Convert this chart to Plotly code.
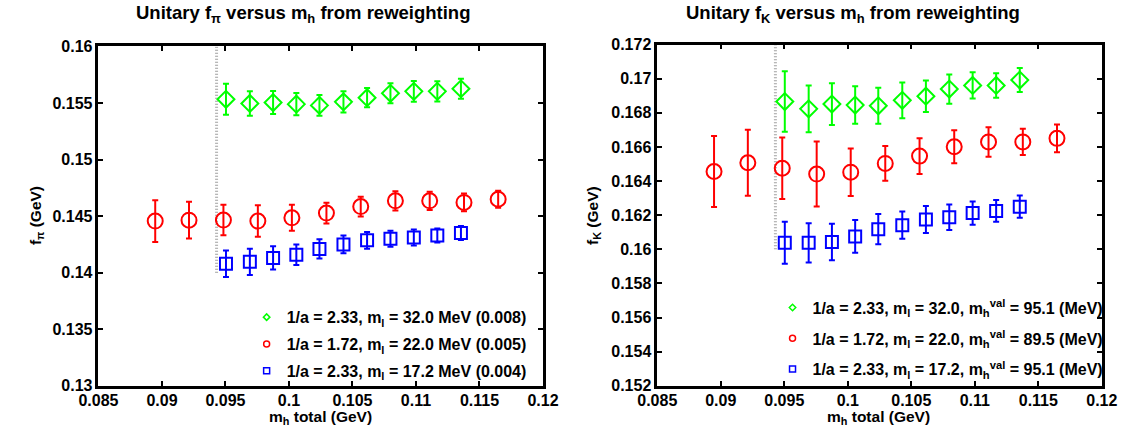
import plotly.graph_objects as go

# Heavy-quark mass (GeV) on each ensemble
mh_233 = [0.09504, 0.09692, 0.09875, 0.10058, 0.10240, 0.10429, 0.10615, 0.10799, 0.10983, 0.11168, 0.11354]
mh_172 = [0.08947, 0.09213, 0.09484, 0.09755, 0.10023, 0.10295, 0.10565, 0.10838, 0.11108, 0.11378, 0.11647]

# f_pi (GeV) with errors
fpi_008 = [0.15533, 0.15496, 0.15504, 0.15490, 0.15479, 0.15510, 0.15547, 0.15586, 0.15603, 0.15603, 0.15626]
fpi_008_err = [0.00137, 0.00109, 0.00102, 0.00098, 0.00092, 0.00094, 0.00085, 0.00088, 0.00092, 0.00089, 0.00088]
fpi_005 = [0.14456, 0.14464, 0.14465, 0.14456, 0.14485, 0.14527, 0.14584, 0.14635, 0.14635, 0.14621, 0.14649]
fpi_005_err = [0.00184, 0.00163, 0.00135, 0.00139, 0.00115, 0.00092, 0.00088, 0.00085, 0.00080, 0.00078, 0.00075]
fpi_004 = [0.14079, 0.14096, 0.14130, 0.14159, 0.14210, 0.14250, 0.14286, 0.14300, 0.14311, 0.14328, 0.14351]
fpi_004_err = [0.00117, 0.00116, 0.00103, 0.00091, 0.00085, 0.00079, 0.00074, 0.00070, 0.00070, 0.00062, 0.00062]

# f_K (GeV) with errors
fK_008 = [0.16866, 0.16823, 0.16851, 0.16845, 0.16841, 0.16873, 0.16897, 0.16939, 0.16960, 0.16960, 0.16992]
fK_008_err = [0.00177, 0.00137, 0.00122, 0.00110, 0.00105, 0.00105, 0.00092, 0.00086, 0.00077, 0.00072, 0.00070]
fK_005 = [0.16456, 0.16507, 0.16475, 0.16441, 0.16452, 0.16503, 0.16546, 0.16601, 0.16629, 0.16629, 0.16650]
fK_005_err = [0.00208, 0.00193, 0.00180, 0.00190, 0.00139, 0.00102, 0.00105, 0.00097, 0.00086, 0.00077, 0.00081]
fK_004 = [0.16038, 0.16038, 0.16043, 0.16075, 0.16118, 0.16141, 0.16175, 0.16188, 0.16212, 0.16225, 0.16250]
fK_004_err = [0.00123, 0.00115, 0.00107, 0.00096, 0.00089, 0.00080, 0.00079, 0.00075, 0.00068, 0.00064, 0.00065]

# Reweighting cut
cut_x = [0.0943, 0.0943]
cut_y_pi = [0.14, 0.16]
cut_y_K = [0.16, 0.172]

# Axis ticks
x_ticks = [0.085, 0.09, 0.095, 0.1, 0.105, 0.11, 0.115, 0.12]
y_ticks_pi = [0.13, 0.135, 0.14, 0.145, 0.15, 0.155, 0.16]
y_ticks_K = [0.152, 0.154, 0.156, 0.158, 0.16, 0.162, 0.164, 0.166, 0.168, 0.17, 0.172]

labels_pi = ["1/a = 2.33, m<sub>l</sub> = 32.0 MeV (0.008)",
             "1/a = 1.72, m<sub>l</sub> = 22.0 MeV (0.005)",
             "1/a = 2.33, m<sub>l</sub> = 17.2 MeV (0.004)"]
labels_K = ["1/a = 2.33, m<sub>l</sub> = 32.0, m<sub>h</sub><sup>val</sup> = 95.1 (MeV)",
            "1/a = 1.72, m<sub>l</sub> = 22.0, m<sub>h</sub><sup>val</sup> = 89.5 (MeV)",
            "1/a = 2.33, m<sub>l</sub> = 17.2, m<sub>h</sub><sup>val</sup> = 95.1 (MeV)"]

GREEN, RED, BLUE = "#00ff00", "#ff0000", "#0000ff"
FONT = "Liberation Sans, Arial, sans-serif"

styles = [("diamond-open", 13, GREEN), ("circle-open", 15, RED), ("square-open", 12, BLUE)]

fig = go.Figure()

panels = [
    ("x", "y", cut_y_pi, [(mh_233, fpi_008, fpi_008_err), (mh_172, fpi_005, fpi_005_err),
                          (mh_233, fpi_004, fpi_004_err)], labels_pi, "legend"),
    ("x2", "y2", cut_y_K, [(mh_233, fK_008, fK_008_err), (mh_172, fK_005, fK_005_err),
                           (mh_233, fK_004, fK_004_err)], labels_K, "legend2"),
]

for xa, ya, cut_y, series, labels, leg in panels:
    fig.add_trace(go.Scatter(x=cut_x, y=cut_y, xaxis=xa, yaxis=ya, mode="lines",
                             line=dict(color="#a0a0a0", width=3, dash="1px,2px"),
                             showlegend=False, hoverinfo="skip"))
    for (xs, ys, es), (sym, size, col), lab in zip(series, styles, labels):
        fig.add_trace(go.Scatter(
            x=xs, y=ys, xaxis=xa, yaxis=ya, mode="markers",
            marker=dict(symbol=sym, size=size, color=col, line=dict(color=col, width=2)),
            error_y=dict(type="data", array=es, color=col, thickness=2, width=3),
            showlegend=False))
    # small legend symbols
    for (sym, size, col), lab in zip(styles, labels):
        fig.add_trace(go.Scatter(
            x=[None], y=[None], xaxis=xa, yaxis=ya, mode="markers", name=lab,
            marker=dict(symbol=sym, size=6 if sym != "diamond-open" else 5, color=col,
                        line=dict(color=col, width=1.5)),
            legend=leg, legendgroup=lab))

axis_common = dict(showline=True, linecolor="black", linewidth=2.5, mirror="allticks",
                   ticks="inside", ticklen=5, tickwidth=1.5, tickcolor="black",
                   showgrid=False, zeroline=False,
                   tickfont=dict(family=FONT, size=16, color="black", weight="bold"))

xfmt = lambda v: f"{v:g}"
legend_font = dict(family=FONT, size=16, color="black", weight="bold")

fig.update_layout(
    width=1143, height=439, margin=dict(l=0, r=0, t=0, b=0),
    paper_bgcolor="white", plot_bgcolor="white",
    font=dict(family=FONT, color="black"),
    xaxis=dict(domain=[81 / 1143, 540 / 1143], range=[0.085, 0.12], anchor="y",
               tickvals=x_ticks, ticktext=[xfmt(v) for v in x_ticks],
               ticklabelstandoff=-2, **axis_common),
    yaxis=dict(domain=[1 - 393 / 439, 1 - 40 / 439], range=[0.13, 0.16], anchor="x",
               tickvals=y_ticks_pi, ticktext=[xfmt(v) for v in y_ticks_pi], **axis_common),
    xaxis2=dict(domain=[658 / 1143, 1117 / 1143], range=[0.085, 0.12], anchor="y2",
                tickvals=x_ticks, ticktext=[xfmt(v) for v in x_ticks],
                ticklabelstandoff=-2, **axis_common),
    yaxis2=dict(domain=[1 - 393 / 439, 1 - 38 / 439], range=[0.152, 0.172], anchor="x2",
                tickvals=y_ticks_K, ticktext=[xfmt(v) for v in y_ticks_K], **axis_common),
    legend=dict(x=234 / 1143, y=1 - 304 / 439, xanchor="left", yanchor="top",
                bgcolor="rgba(0,0,0,0)", tracegroupgap=3, font=legend_font),
    legend2=dict(x=777 / 1143, y=1 - 294 / 439, xanchor="left", yanchor="top",
                 bgcolor="rgba(0,0,0,0)", tracegroupgap=7, font=legend_font),
)

title_font = dict(family=FONT, size=18.5, color="black", weight="bold")
label_font = dict(family=FONT, size=15.5, color="black", weight="bold")
annotations = [
    dict(text="Unitary f<sub>π</sub> versus m<sub>h</sub> from reweighting", x=292 / 1143,
         y=1 - 6 / 439, font=title_font),
    dict(text="Unitary f<sub>K</sub> versus m<sub>h</sub> from reweighting", x=860 / 1143,
         y=1 - 6 / 439, font=title_font),
    dict(text="m<sub>h</sub> total (GeV)", x=310 / 1143, y=1 - 426 / 439, font=label_font),
    dict(text="m<sub>h</sub> total (GeV)", x=886 / 1143, y=1 - 426 / 439, font=label_font),
    dict(text="f<sub>π</sub> (GeV)", x=17 / 1143, y=1 - 216 / 439, textangle=-90, font=label_font),
    dict(text="f<sub>K</sub> (GeV)", x=592 / 1143, y=1 - 216 / 439, textangle=-90, font=label_font),
]
for a in annotations:
    fig.add_annotation(xref="paper", yref="paper", showarrow=False,
                       xanchor="center", yanchor="middle", **a)

fig.write_html("out.html")
